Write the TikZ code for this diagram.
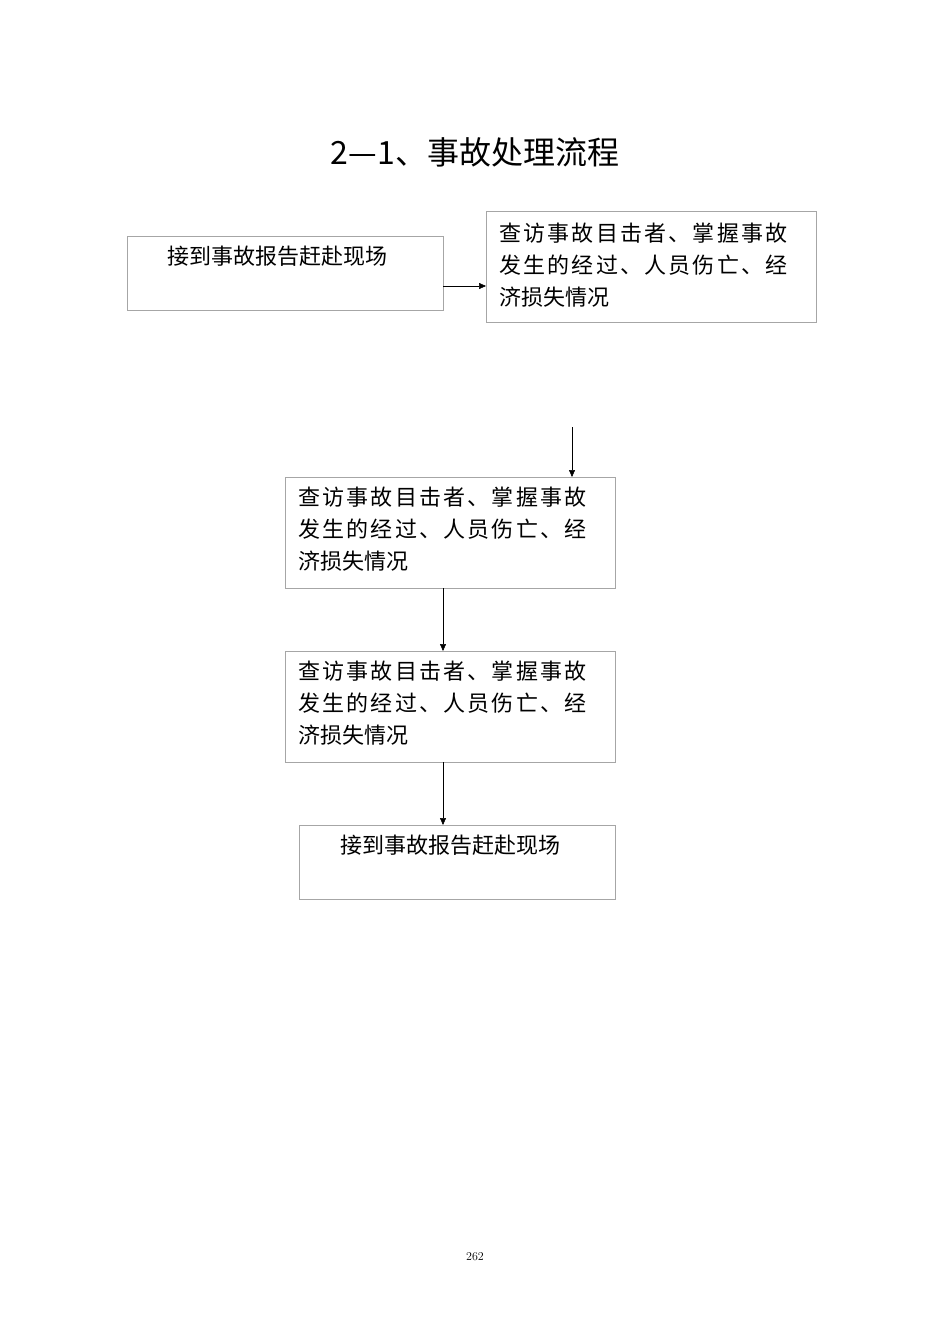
\documentclass[tikz,border=0pt]{standalone}
\usepackage{fontspec}
\newfontfamily\cjk{Noto Sans CJK SC}
\newfontfamily\cjkw[LetterSpace=10]{Noto Sans CJK SC}
\usetikzlibrary{arrows.meta}
\begin{document}
\begin{tikzpicture}[x=1pt,y=-1pt,
  box/.style={draw=black!35,line width=0.6pt},
  txt/.style={anchor=north west,inner sep=0pt,align=left,font={\cjk\fontsize{22}{32}\selectfont}},
  arr/.style={-{Triangle[length=7pt,width=6pt]},line width=0.5pt}]
\useasboundingbox (0,0) rectangle (950,1344);
\node[font={\cjk\fontsize{32}{36}\selectfont}] (title) at (475,152) {2—1、事故处理流程};
\draw[box] (127,236) rectangle (443,310);
\node[txt] (t1) at (167,246) {接到事故报告赶赴现场};
\coordinate (b1r) at (443,286);
\draw[box] (486,211) rectangle (816,322);
\coordinate (b2l) at (486,286);
\node[txt] (t2) at (499,223) {{\cjkw 查访事故目击者、掌握事故}\\{\cjkw 发生的经过、人员伤亡、经}\\济损失情况};
\draw[arr] (b1r) -- (b2l);
\coordinate (s) at (572,427);
\coordinate (b3t) at (572,477);
\draw[arr] (s) -- (b3t);
\draw[box] (285,477) rectangle (615,588);
\node[txt] (t3) at (298,487) {{\cjkw 查访事故目击者、掌握事故}\\{\cjkw 发生的经过、人员伤亡、经}\\济损失情况};
\coordinate (b3b) at (443,588);
\coordinate (b4t) at (443,651);
\draw[arr] (b3b) -- (b4t);
\draw[box] (285,651) rectangle (615,762);
\node[txt] (t4) at (298,661) {{\cjkw 查访事故目击者、掌握事故}\\{\cjkw 发生的经过、人员伤亡、经}\\济损失情况};
\coordinate (b4b) at (443,762);
\coordinate (b5t) at (443,825);
\draw[arr] (b4b) -- (b5t);
\draw[box] (299,825) rectangle (615,899);
\node[txt] (t5) at (340,835) {接到事故报告赶赴现场};
\node[font={\fontsize{12}{14}\selectfont}] (pg) at (475,1257) {262};
\end{tikzpicture}
\end{document}
